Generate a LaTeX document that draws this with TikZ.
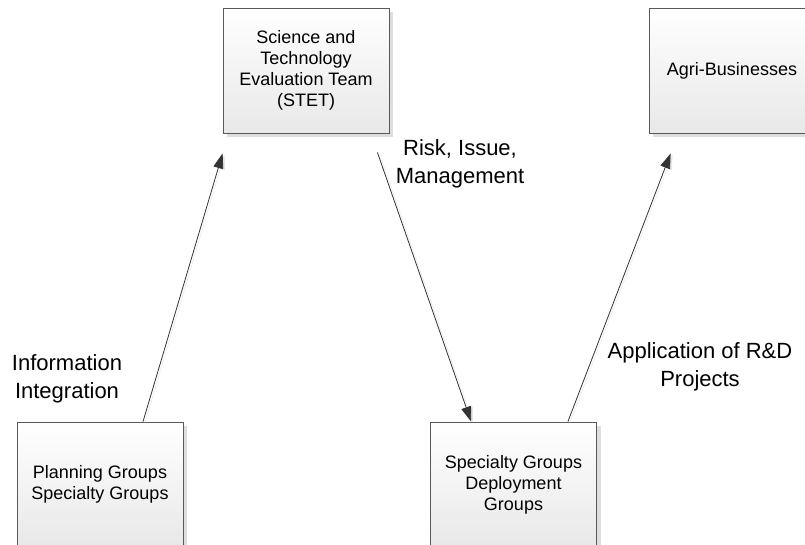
\documentclass[tikz,border=0pt]{standalone}
\usepackage{fontspec}
\setmainfont{Liberation Sans}
\usepackage{tikz}
\usetikzlibrary{calc, arrows.meta}

\begin{document}
\begin{tikzpicture}[x=1pt,y=-1pt,
    groupbox/.style={draw=black!65, line width=0.8pt, top color=white, bottom color=black!9,
        minimum width=166pt, minimum height=125pt, inner sep=0pt, align=center,
        font=\fontsize{18}{21}\selectfont,
        preaction={fill=black!13, transform canvas={xshift=4pt,yshift=-4pt}}},
    flowlabel/.style={align=center, font=\fontsize{22}{28}\selectfont},
    flow/.style={draw=black!80, line width=0.8pt, -{Triangle[length=15pt,width=10pt]},
        preaction={draw=black!10, transform canvas={xshift=2pt,yshift=-1pt}}}]
    \clip (0,0) rectangle (805,544);
    \fill[white] (0,0) rectangle (805,544);
    % boxes
    \node[groupbox] (stet) at (306,70.5) {Science and\\Technology\\Evaluation Team\\(STET)};
    \node[groupbox] (agri) at (732,70.5) {Agri-Businesses};
    \node[groupbox] (plan) at (100,484.5) {Planning Groups\\Specialty Groups};
    \node[groupbox] (depl) at (513.5,484.5) {Specialty Groups\\Deployment\\Groups};
    % connectors
    \draw[flow] ([xshift=43pt]plan.north) -- ([yshift=-20pt]stet.south west);
    \draw[flow] ([xshift=-12pt,yshift=-19pt]stet.south east) -- ([xshift=41pt]depl.north west);
    \draw[flow] ([xshift=-29pt]depl.north east) -- ([xshift=22pt,yshift=-20pt]agri.south west);
    % labels
    \node[flowlabel] (info) at (67,379) {Information\\Integration};
    \node[flowlabel] (risk) at (460,164) {Risk, Issue,\\Management};
    \node[flowlabel] (appl) at (700,367) {Application of R\&D\\Projects};
\end{tikzpicture}
\end{document}
